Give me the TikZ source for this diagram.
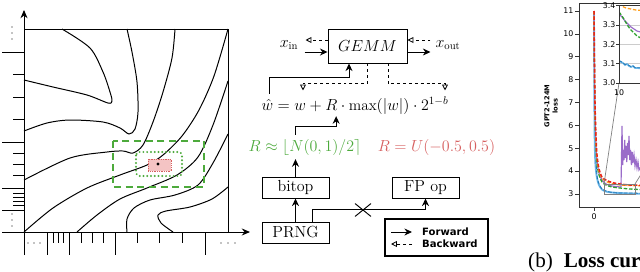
\documentclass[tikz,border=0pt]{standalone}
\usepackage{amsmath}
\usepackage{graphicx}
\usepackage{fontspec}
\newfontfamily\plotfont{DejaVu Sans}
\newfontfamily\capfont{Liberation Serif}
\usetikzlibrary{arrows.meta,calc,shapes.misc}
\definecolor{roundgreen}{HTML}{4DAA3C}
\definecolor{uniformred}{HTML}{D65F5F}
\definecolor{pinkfill}{HTML}{F4C4C4}
\definecolor{lossred}{HTML}{E8241C}
\definecolor{lossorange}{HTML}{FF9F1C}
\definecolor{lossgreen}{HTML}{2CA02C}
\definecolor{losspurple}{HTML}{9A6CC9}
\definecolor{lossblue}{HTML}{1F77B4}
\definecolor{losslight}{HTML}{6CB6E8}
\newcommand{\mainsize}{\fontsize{13.7}{16}\selectfont}
\newcommand{\mathlabel}[1]{\scalebox{0.95}{#1}}
\tikzset{
  opbox/.style={
    draw,
    line width=0.8pt,
    inner sep=0pt,
    minimum width=2.01cm,
    minimum height=0.63cm,
    font=\mainsize
  },
  gemmbox/.style={opbox, minimum width=2.37cm, minimum height=1.02cm},
  fwd/.style={-{Stealth[length=6.5pt,width=6pt]}, line width=0.8pt},
  bwd/.style={-{Triangle[open,length=5pt,width=5pt]}, line width=0.7pt, dash pattern=on 2.5pt off 2.5pt},
  contour/.style={line width=0.85pt},
  axisline/.style={line width=0.85pt},
  tickmark/.style={line width=0.85pt},
  legendbox/.style={draw, line width=1.7pt, minimum width=3.09cm, minimum height=1.11cm, inner sep=0pt},
  legendtext/.style={font=\plotfont\bfseries\fontsize{8.6}{10}\selectfont, anchor=west, inner sep=0pt},
  plotframe/.style={draw=black!80, line width=0.6pt},
  ticklabel/.style={font=\plotfont\fontsize{6.7}{8}\selectfont, inner sep=0pt},
  zoomline/.style={draw=gray, line width=0.6pt},
  lossline/.style={line width=1pt},
  lossdash/.style={line width=1.1pt, dash pattern=on 3pt off 1.5pt}
}

\begin{document}
\begin{tikzpicture}[x=0.03cm,y=-0.03cm]
  \useasboundingbox (0,0) rectangle (640,271);

  % Loss landscape sketch.
  \draw[axisline,-{Stealth[length=7pt,width=6pt]}] (2,232) -- (250,232);
  \draw[axisline,-{Stealth[length=7pt,width=6pt]}] (24,255) -- (24,10);
  \draw[axisline] (24,29) -- (228,29) -- (228,232);
  \foreach \yy in {52,142,188,210}
    \draw[tickmark] (2,\yy) -- (24,\yy);
  \foreach \yy in {74,97,119,153,164,175,193,197,201,205}
    \draw[tickmark] (13,\yy) -- (24,\yy);
  \foreach \xx in {47,69,115,205}
    \draw[tickmark] (\xx,232) -- (\xx,255);
  \foreach \xx in {53,58,63,81,92,103,137,159,182}
    \draw[tickmark] (\xx,232) -- (\xx,243);
  \foreach \yy in {27,33,39,214,220,226}
    \fill (12,\yy) circle (0.6pt);
  \foreach \xx in {28,34,40,221,228,235}
    \fill (\xx,243) circle (0.6pt);

  \draw[contour] plot[smooth] coordinates {(62,29) (90,48) (103,72) (110,92) (112,101) (108,103) (87,95) (53,87) (24,80)};
  \draw[contour] plot[smooth] coordinates {(127,29) (132,52) (137,82) (138,112) (135,129) (129,134) (120,128) (103,122) (70,120) (47,123) (24,131)};
  \draw[contour] plot[smooth] coordinates {(175,29) (172,58) (163,92) (153,122) (143,145) (133,153) (123,151) (107,152) (70,158) (24,180)};
  \draw[contour] plot[smooth] coordinates {(24,232) (53,208) (87,188) (120,175) (147,165) (163,155) (182,136) (199,110) (214,76) (228,29)};
  \draw[contour] plot[smooth] coordinates {(77,232) (97,215) (120,199) (147,188) (177,175) (198,157) (213,125) (228,81)};
  \draw[contour] plot[smooth] coordinates {(127,232) (127,219) (134,208) (150,200) (175,195) (198,185) (213,163) (228,134)};
  \draw[contour] plot[smooth] coordinates {(173,232) (161,223) (158,215) (166,211) (190,207) (212,199) (228,187)};

  \draw[roundgreen, line width=1.8pt, dash pattern=on 6pt off 4pt] (113,141) rectangle (204,187);
  \draw[roundgreen, line width=1.8pt, dash pattern=on 0.01pt off 3.2pt, line cap=round, rounded corners=3pt] (136,152) rectangle (182,176);
  \draw[uniformred, fill=pinkfill, line width=0.5pt, dash pattern=on 0.5pt off 1pt] (148,159) rectangle (171,171);
  \fill (158,164) circle (1.4pt);

  % GEMM with forward and backward flows.
  \node[gemmbox] (gemm) at (367.5,46) {\mathlabel{$GEMM$}};
  \node[font=\mainsize] (xin) at (289,45) {\mathlabel{$x_{\text{in}}$}};
  \node[font=\mainsize] (xout) at (448,45) {\mathlabel{$x_{\text{out}}$}};
  \draw[fwd] ($(gemm.west)+(-23,6)$) -- ($(gemm.west)+(0,6)$);
  \draw[bwd] ($(gemm.west)+(0,-6)$) -- ($(gemm.west)+(-22,-6)$);
  \draw[fwd] ($(gemm.east)+(0,6)$) -- ($(gemm.east)+(23,6)$);
  \draw[bwd] ($(gemm.east)+(23,-6)$) -- ($(gemm.east)+(0,-6)$);

  \node[font=\mainsize, inner sep=1pt] (wq) at (355,106)
    {\mathlabel{$\hat{w} = w + R \cdot \max(|w|) \cdot 2^{1-b}$}};
  \draw[fwd] ($(wq.north west)+(9,-2)$) |- ($(gemm.south)+(-18.5,14)$) -- ($(gemm.south)+(-18.5,0)$);
  \draw[bwd] (gemm.south) |- ++(-64.5,20) -- ++(0,7);
  \draw[bwd] ($(gemm.south)+(20.5,0)$) |- ++(57,20) -- ++(0,7);

  % Rounding choices.
  \node[font=\mainsize, text=roundgreen] (rbit) at (305,147)
    {\mathlabel{$R \approx \lfloor N(0,1)/2 \rceil$}};
  \node[font=\mainsize, text=uniformred] (runi) at (436.5,147)
    {\mathlabel{$R = U(-0.5, 0.5)$}};

  % Random bits.
  \node[opbox] (bitop) at (295.5,187.5) {bitop};
  \node[opbox] (prng) at (295.5,232.5) {PRNG};
  \node[opbox] (fpop) at (425.5,187.5) {FP op};
  \draw[fwd] (prng) -- (bitop);
  \draw[fwd] (bitop) -- (bitop.north |- rbit.south);
  \draw[fwd] (bitop.north |- rbit.north) |- ($(wq.south west)+(76,10)$) -- ($(wq.south west)+(76,0)$);
  \draw[fwd] ($(prng.north)+(16.5,0)$) |- ($(fpop.south)+(0,11)$) -- (fpop.south);
  \node[cross out, draw, line width=0.8pt, minimum width=0.45cm, minimum height=0.36cm, inner sep=0pt] (cut) at (363,210) {};

  % Legend.
  \node[legendbox] (legend) at (436.5,237.5) {};
  \draw[fwd] ($(legend.west)+(7,-5.5)$) -- ++(21,0);
  \node[legendtext] (fwdtext) at ($(legend.west)+(38,-5.5)$) {Forward};
  \draw[bwd] ($(legend.west)+(28,6.5)$) -- ++(-21,0);
  \node[legendtext] (bwdtext) at ($(legend.west)+(38,6.5)$) {Backward};

  % Loss curves (cut at the right edge).
  \begin{scope}
    \clip (520,0) rectangle (640,271);
    \node[font=\plotfont\bfseries\fontsize{5.7}{7}\selectfont, rotate=90, align=center, inner sep=0pt] (ylabel) at (551,106) {GPT2-124M\\loss};
    \draw[plotframe] (650,3) -- (579,3) -- (579,207) -- (650,207);
    \foreach \v in {3,...,11}{
      \pgfmathsetmacro{\yy}{194-(\v-3)*22.875}
      \draw[plotframe] (575,\yy) -- (579,\yy);
      \node[ticklabel, anchor=east] (ytick\v) at (573.5,\yy) {\v};
    }
    \draw[plotframe] (594,207) -- (594,211);
    \node[ticklabel, anchor=north] (xtick0) at (594,213) {0};

    \draw[lossline, losslight, line width=1.6pt] plot[smooth, tension=0.5] coordinates {(594,11) (594.3,90) (594.7,140) (595.5,165) (597,178) (599,185) (602,189.5) (606,191.5) (612,192.5) (620,193) (630,193.5) (650,194)};
    \draw[lossdash, lossblue, line width=0.7pt] plot[smooth, tension=0.5] coordinates {(596,160) (597,176) (599,184) (602,189) (606,191) (612,192.5) (620,193) (630,193) (650,193.5)};
    \draw[lossline, losspurple] plot[smooth, tension=0.5] coordinates {(594,11) (594.4,62) (595,112) (596,146) (597,161) (599,173) (602,180) (606,184) (612,186) (621,187)};
    \draw[lossline, losspurple] plot coordinates {(621,187) (622,126) (622.7,165) (623.4,150) (624,160) (624.7,140) (625.4,158) (626,146) (626.8,162) (627.6,143) (628.3,155) (629,136) (629.8,160) (630.6,150) (631.4,165) (632.2,152) (633,163) (634,155) (635,166) (636,160) (637,168) (638,162) (639,170) (642,165)};
    \draw[lossdash, lossgreen] plot[smooth, tension=0.5] coordinates {(594,11) (594.4,65) (595,115) (596,150) (597,164) (599,175) (602,182) (606,185) (612,187) (620,188) (630,189) (650,190)};
    \draw[lossdash, lossorange] plot[smooth, tension=0.5] coordinates {(594,11) (594.4,60) (595,108) (596,142) (597,158) (599,171) (602,178) (606,181.5) (612,183.5) (620,185) (630,185.5) (650,186)};
    \draw[lossdash, lossred, line width=1.3pt] plot[smooth, tension=0.5] coordinates {(594,11) (594.4,57) (595,103) (596,137) (597,155) (599,169) (602,177) (606,180) (612,182.5) (620,184) (630,185) (650,185.5)};

    % Zoomed inset.
    \draw[zoomline] (604,184) rectangle (635,194);
    \draw[zoomline] (604,184) -- (619,83);
    \draw[zoomline] (635,184) -- (698,83);
    \fill[white] (619,5) rectangle (700,83);
    \foreach \yy in {25,44.3,63.7}
      \draw[black!20, line width=0.5pt] (619,\yy) -- (700,\yy);
    \begin{scope}
      \clip (619,5) rectangle (700,83);
      \draw[lossdash, lossorange] plot[smooth] coordinates {(619,3) (622,6) (626,8) (631,9) (636,10) (645,10.5)};
      \draw[lossline, losspurple] plot[smooth] coordinates {(619,14) (622,17) (625,21) (628,24) (631,27) (634,29) (637,31) (645,33)};
      \draw[lossdash, lossgreen] plot[smooth] coordinates {(619,12) (622,16) (625,21) (628,26) (631,30) (634,33) (637,36) (645,40)};
      \draw[lossline, losslight, line width=1.4pt] plot coordinates {(619,61) (621,62) (623,63) (625,65) (627,64) (629,66) (631,67) (633,66) (635,68) (637,68) (645,69)};
      \draw[lossdash, lossblue, line width=0.6pt] plot coordinates {(619,60.5) (621,61.5) (623,63) (625,64.5) (627,64) (629,65.5) (631,66.5) (633,66) (635,67.5) (637,67.5) (645,68.5)};
    \end{scope}
    \draw[plotframe] (700,5) -- (619,5) -- (619,83) -- (700,83);
    \foreach \v/\lab in {0/3.0,1/3.1,2/3.2,3/3.3,4/3.4}{
      \pgfmathsetmacro{\yy}{83-\v*19.3}
      \draw[plotframe] (616,\yy) -- (619,\yy);
      \node[ticklabel, anchor=east] (itick\v) at (615.5,\yy) {\lab};
    }
    \node[ticklabel, anchor=north] (ixtick) at (619,89) {10};

    \node[font=\capfont\fontsize{18}{21}\selectfont, anchor=base west, inner sep=0pt] (caption) at (528,267) {(b)\hspace{9.4pt}\textbf{Loss curves}};
  \end{scope}
\end{tikzpicture}
\end{document}
